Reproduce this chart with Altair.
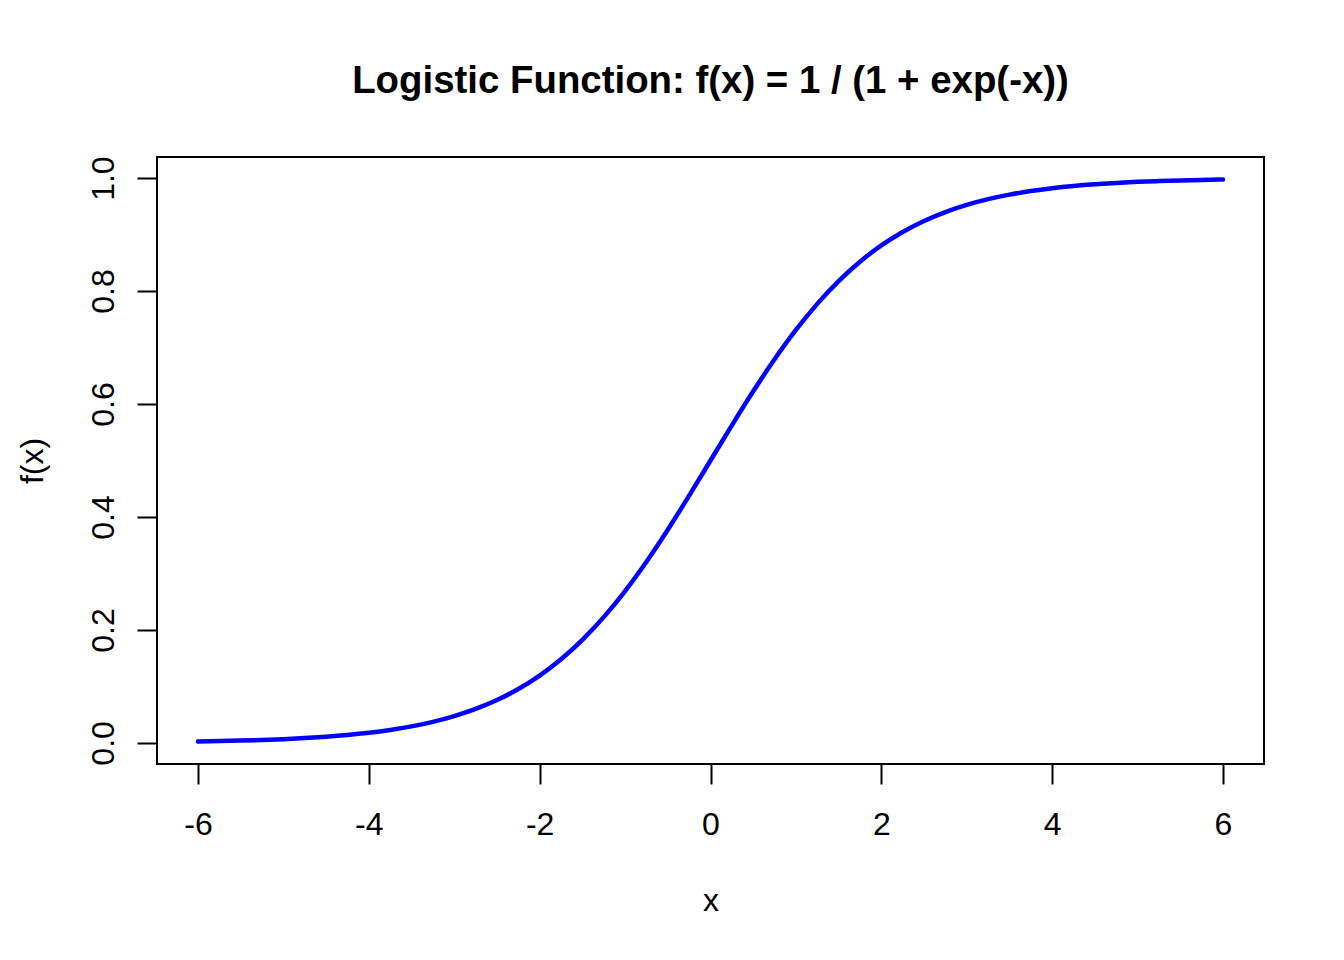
import altair as alt
import pandas as pd

# Values
x_vals = [-6, -5.75, -5.5, -5.25, -5, -4.75, -4.5, -4.25, -4, -3.75, -3.5, -3.25,
          -3, -2.75, -2.5, -2.25, -2, -1.75, -1.5, -1.25, -1, -0.75, -0.5, -0.25,
          0, 0.25, 0.5, 0.75, 1, 1.25, 1.5, 1.75, 2, 2.25, 2.5, 2.75, 3, 3.25,
          3.5, 3.75, 4, 4.25, 4.5, 4.75, 5, 5.25, 5.5, 5.75, 6]
y_vals = [0.00247, 0.00317, 0.00407, 0.00522, 0.00669, 0.00858, 0.01099, 0.01406,
          0.01799, 0.02298, 0.02931, 0.03732, 0.04743, 0.06008, 0.07586, 0.09535,
          0.11920, 0.14805, 0.18243, 0.22270, 0.26894, 0.32082, 0.37754, 0.43782,
          0.5, 0.56218, 0.62246, 0.67918, 0.73106, 0.77730, 0.81757, 0.85195,
          0.88080, 0.90465, 0.92414, 0.93992, 0.95257, 0.96268, 0.97069, 0.97702,
          0.98201, 0.98594, 0.98901, 0.99142, 0.99331, 0.99478, 0.99593, 0.99683,
          0.99753]
x_ticks = [-6, -4, -2, 0, 2, 4, 6]
y_ticks = [0.0, 0.2, 0.4, 0.6, 0.8, 1.0]

df = pd.DataFrame({"x": x_vals, "y": y_vals})

FONT = "Liberation Sans"
W, H = 1107, 607

chart = alt.Chart(df).mark_line(
    color="#0000FF", strokeWidth=4.5, strokeCap="round", interpolate="monotone", clip=True
).encode(
    x=alt.X("x:Q", scale=alt.Scale(domain=[-6.48, 6.48], nice=False, zero=False),
            axis=alt.Axis(values=x_ticks, title="x", domain=False, grid=False,
                          tickSize=20, tickWidth=2, tickColor="black",
                          labelExpr="'' + datum.value", labelFont=FONT, labelFontSize=32,
                          labelColor="black", labelBaseline="alphabetic", labelPadding=50,
                          labelFlush=False, labelOverlap=False,
                          titleFont=FONT, titleFontSize=32, titleFontWeight="normal",
                          titleColor="black", titleBaseline="alphabetic",
                          titleX=W / 2, titleY=146, titleAlign="center")),
    y=alt.Y("y:Q", scale=alt.Scale(domain=[-0.03733, 1.03733], nice=False, zero=False),
            axis=alt.Axis(values=y_ticks, title="f(x)", domain=False, grid=False,
                          tickSize=20, tickWidth=2, tickColor="black",
                          labelExpr="format(datum.value, '.1f')", labelFont=FONT,
                          labelFontSize=32, labelColor="black", labelAngle=270,
                          labelAlign="center", labelBaseline="alphabetic", labelPadding=24,
                          labelFlush=False, labelOverlap=False,
                          titleFont=FONT, titleFontSize=32, titleFontWeight="normal",
                          titleColor="black", titleAngle=270, titleBaseline="alphabetic",
                          titleAlign="center", titleX=-115, titleY=H / 2)),
).properties(
    width=W, height=H,
    title=alt.TitleParams("Logistic Function: f(x) = 1 / (1 + exp(-x))", font=FONT,
                          fontSize=38.4, fontWeight="bold", color="black",
                          anchor="middle", baseline="alphabetic", offset=24),
    autosize=alt.AutoSizeParams(type="none"),
    padding={"left": 149, "top": 149, "right": 72, "bottom": 188},
    background="white",
).configure_view(stroke="black", strokeWidth=2)

chart.save("out.html", embed_options={"renderer": "svg", "actions": False})
